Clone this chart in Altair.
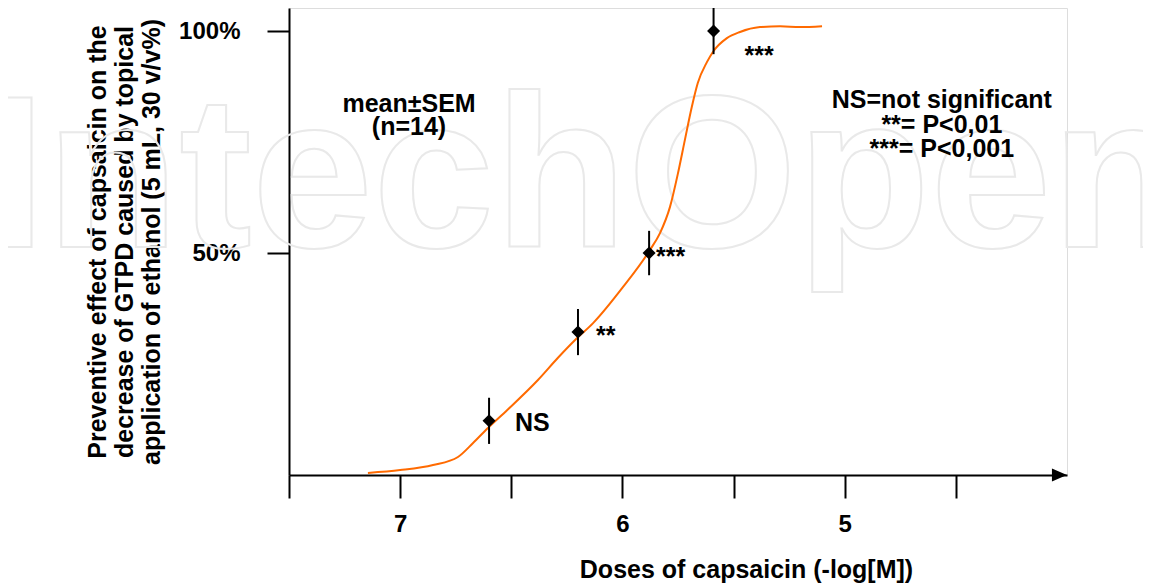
import altair as alt
import pandas as pd

# ---- data ----
dose = [6.6, 6.2, 5.88, 5.59]            # -log[M]
effect = [12.2, 32.2, 50.0, 100.0]       # % preventive effect
sem = [5.2, 5.2, 5.0, 5.2]
sig = ["NS", "**", "***", "***"]

curve_dose = [7.145, 7.0, 6.852, 6.74, 6.672, 6.605, 6.519, 6.38, 6.29, 6.213,
              6.132, 5.998, 5.876, 5.831, 5.786, 5.75, 5.719, 5.688, 5.661,
              5.62, 5.593, 5.53, 5.471, 5.381, 5.291, 5.201, 5.102]
curve_effect = [0.45, 1.1, 2.25, 4.05, 7.2, 10.6, 14.6, 21.4, 26.4, 30.4,
                34.2, 42.3, 50.7, 54.5, 60.4, 68.0, 75.5, 82.9, 88.3,
                93.0, 95.3, 98.4, 99.8, 100.9, 101.1, 100.9, 101.1]

x_ticks = [7.5, 7.0, 6.5, 6.0, 5.5, 5.0, 4.5]
y_ticks = [50, 100]

info_left = ["mean±SEM", "(n=14)"]
info_right = ["NS=not significant", "**= P<0,01", "***= P<0,001"]

x_title = "Doses of capsaicin (-log[M])"
y_title = ["Preventive effect of capsaicin on the",
           "decrease of GTPD caused by topical",
           "application of ethanol (5 mL, 30 v/v%)"]

FONT = "Liberation Sans"
W, H = 778, 467
X_DOMAIN = [4.0, 7.5]
Y_DOMAIN = [0, 105.2]

xs = alt.Scale(domain=X_DOMAIN, reverse=True, nice=False, zero=False)
ys = alt.Scale(domain=Y_DOMAIN, nice=False, zero=False)

x_axis = alt.Axis(
    values=x_ticks,
    labelExpr="datum.value % 1 == 0 ? format(datum.value, 'd') : ''",
    grid=False, domainColor="black", domainWidth=2,
    tickColor="black", tickWidth=2, tickSize=23,
    labelFont=FONT, labelFontSize=24, labelFontWeight="bold", labelColor="black",
    labelPadding=14, labelFlush=False, labelOverlap=False,
    title=x_title, titleFont=FONT, titleFontSize=25, titleFontWeight="bold",
    titleColor="black", titleX=457, titleY=102, titleBaseline="alphabetic",
    titleAlign="center",
)
y_axis = alt.Axis(
    values=y_ticks, labelExpr="datum.value + '%'",
    grid=False, domainColor="black", domainWidth=2,
    tickColor="black", tickWidth=2, tickSize=22,
    labelFont=FONT, labelFontSize=24, labelFontWeight="bold", labelColor="black",
    labelPadding=27, labelFlush=False,
    title=y_title, titleFont=FONT, titleFontSize=25, titleFontWeight="bold",
    titleColor="black", titleAngle=270, titleX=-192, titleBaseline="middle",
    titleLineHeight=27, titleAlign="center",
)

X = alt.X("x:Q", scale=xs, axis=x_axis)
Y = alt.Y("y:Q", scale=ys, axis=y_axis)

pts = pd.DataFrame({"x": dose, "y": effect,
                    "lo": [e - s for e, s in zip(effect, sem)],
                    "hi": [e + s for e, s in zip(effect, sem)],
                    "sig": sig})
curve = pd.DataFrame({"x": curve_dose, "y": curve_effect})

# faint watermark
watermark = alt.Chart(pd.DataFrame({"t": ["IntechOpen"]})).mark_text(
    font=FONT, fontSize=218, fontWeight="bold", align="center",
    baseline="alphabetic", fillOpacity=0, stroke="#e9e9e9", strokeWidth=2
).encode(text="t:N", x=alt.value(296), y=alt.value(239))

line = alt.Chart(curve).mark_line(
    color="#ff6a00", strokeWidth=2, interpolate="monotone"
).encode(x=X, y=Y)

err = alt.Chart(pts).mark_rule(color="black", strokeWidth=2).encode(
    x=X, y=alt.Y("lo:Q", scale=ys, axis=y_axis), y2="hi:Q")

diam = alt.Chart(pts).mark_point(
    shape="diamond", filled=True, color="black", size=170, opacity=1
).encode(x=X, y=Y)

offsets = [(26, 10), (18, 12), (7, 12), (31, 33)]
sig_layers = []
for i, (dx, dy) in enumerate(offsets):
    sig_layers.append(
        alt.Chart(pts.iloc[[i]]).mark_text(
            font=FONT, fontSize=25, fontWeight="bold", color="black",
            align="left", baseline="alphabetic", dx=dx, dy=dy
        ).encode(x=X, y=Y, text="sig:N")
    )

info_l = alt.Chart(pd.DataFrame({"x": [6.96] * 2, "y": [81.8, 76.6],
                                 "t": info_left})).mark_text(
    font=FONT, fontSize=25, fontWeight="bold", color="black",
    align="center", baseline="alphabetic"
).encode(x=X, y=Y, text="t:N")

info_r = alt.Chart(pd.DataFrame({"x": [4.563] * 3, "y": [82.7, 77.0, 71.6],
                                 "t": info_right})).mark_text(
    font=FONT, fontSize=25, fontWeight="bold", color="black",
    align="center", baseline="alphabetic"
).encode(x=X, y=Y, text="t:N")

arrow = alt.Chart(pd.DataFrame({"x": [X_DOMAIN[0] + 0.034], "y": [0]})).mark_point(
    shape="M-1,-0.87L1,0L-1,0.87Z", filled=True, color="black", size=225, opacity=1
).encode(x=X, y=Y)

chart = alt.layer(
    watermark, line, err, diam, *sig_layers, info_l, info_r, arrow
).properties(
    width=W, height=H,
    autosize=alt.AutoSizeParams(type="none"),
    padding={"left": 281, "top": 0, "right": 76, "bottom": 108},
).configure_view(stroke=None).configure(font=FONT, background="white")

chart.save("out.html", embed_options={"renderer": "svg", "actions": False})
